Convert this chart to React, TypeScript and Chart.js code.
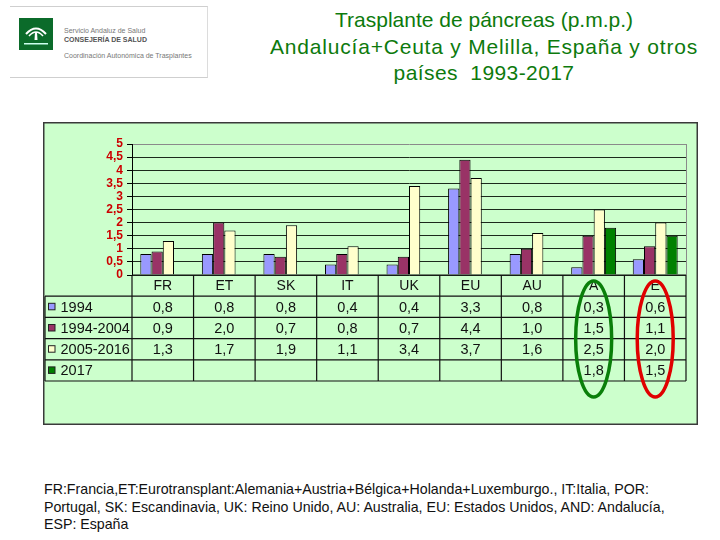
import React, { useEffect, useRef } from "react";
import { Chart, registerables } from "chart.js";

Chart.register(...registerables);

const categories = ["FR", "ET", "SK", "IT", "UK", "EU", "AU", "A", "E"];
const seriesLabels = ["1994", "1994-2004", "2005-2016", "2017"];
const values1994 = [0.8, 0.8, 0.8, 0.4, 0.4, 3.3, 0.8, 0.3, 0.6];
const values1994to2004 = [0.9, 2.0, 0.7, 0.8, 0.7, 4.4, 1.0, 1.5, 1.1];
const values2005to2016 = [1.3, 1.7, 1.9, 1.1, 3.4, 3.7, 1.6, 2.5, 2.0];
const values2017: (number | null)[] = [null, null, null, null, null, null, null, 1.8, 1.5];
const seriesColors = ["#9999FF", "#993366", "#FFFFCC", "#008000"];
const yMin = 0;
const yMax = 5;
const yStep = 0.5;
const highlighted = [
  { category: "A", color: "#0a7f0a" },
  { category: "E", color: "#e00000" },
];

const allSeries = [values1994, values1994to2004, values2005to2016, values2017];

const fmt = (v: number | null) => (v === null ? "" : v.toFixed(1).replace(".", ","));

const tablePlugin = {
  id: "dataTable",
  beforeDraw(chart: any) {
    const { ctx, width, height } = chart;
    ctx.save();
    ctx.fillStyle = "#CCFFCC";
    ctx.fillRect(0, 0, width, height);
    ctx.strokeStyle = "#3a3a3a";
    ctx.lineWidth = 1.5;
    ctx.strokeRect(0.75, 0.75, width - 1.5, height - 1.5);
    ctx.restore();
  },
  afterDraw(chart: any) {
    const { ctx, chartArea } = chart;
    const xs = chart.scales.x;
    const left = chartArea.left;
    const right = chartArea.right;
    const colW = (right - left) / categories.length;
    const top = chartArea.bottom;
    const rowH = 21.2;
    const tableLeft = 2;
    ctx.save();
    ctx.strokeStyle = "#8a8a8a";
    ctx.lineWidth = 1;
    ctx.beginPath();
    ctx.moveTo(right + 0.5, chartArea.top);
    ctx.lineTo(right + 0.5, chartArea.bottom);
    ctx.stroke();

    ctx.strokeStyle = "#111";
    ctx.lineWidth = 1.2;
    ctx.beginPath();
    for (let r = 1; r <= 5; r++) {
      const y = top + r * rowH;
      ctx.moveTo(tableLeft, y);
      ctx.lineTo(right, y);
    }
    ctx.moveTo(left, top);
    ctx.lineTo(right, top);
    for (let c = 0; c <= categories.length; c++) {
      const x = left + c * colW;
      ctx.moveTo(x, top);
      ctx.lineTo(x, top + 5 * rowH);
    }
    ctx.moveTo(tableLeft, top + rowH);
    ctx.lineTo(tableLeft, top + 5 * rowH);
    ctx.stroke();

    ctx.fillStyle = "#111";
    ctx.textAlign = "center";
    ctx.textBaseline = "middle";
    ctx.font = "14px 'Liberation Sans', Arial, sans-serif";
    categories.forEach((c, i) => {
      const x = xs.getPixelForValue(i);
      ctx.fillText(c, x, top + rowH / 2 + 1);
    });
    ctx.font = "14.5px 'Liberation Sans', Arial, sans-serif";
    allSeries.forEach((s, r) => {
      const y = top + (r + 1) * rowH + rowH / 2 + 1;
      s.forEach((v, i) => {
        ctx.fillText(fmt(v), xs.getPixelForValue(i), y);
      });
    });
    ctx.textAlign = "left";
    seriesLabels.forEach((lab, r) => {
      const y = top + (r + 1) * rowH + rowH / 2;
      ctx.fillStyle = seriesColors[r];
      ctx.fillRect(tableLeft + 3.5, y - 3.5, 6.5, 6.5);
      ctx.strokeStyle = "#222";
      ctx.lineWidth = 1;
      ctx.strokeRect(tableLeft + 3.5, y - 3.5, 6.5, 6.5);
      ctx.fillStyle = "#111";
      ctx.fillText(lab, tableLeft + 15.5, y + 1);
    });
    highlighted.forEach((h) => {
      const i = categories.indexOf(h.category);
      const cx = xs.getPixelForValue(i);
      ctx.strokeStyle = h.color;
      ctx.lineWidth = 3.5;
      ctx.beginPath();
      ctx.ellipse(cx, top + 64, 18, 58, 0, 0, Math.PI * 2);
      ctx.stroke();
    });
    ctx.restore();
  },
};

function App() {
  const ref = useRef<HTMLCanvasElement>(null);
  useEffect(() => {
    if (!ref.current) return;
    const chart = new Chart(ref.current, {
      type: "bar",
      data: {
        labels: categories,
        datasets: allSeries.map((s, i) => ({
          label: seriesLabels[i],
          data: s as any,
          backgroundColor: seriesColors[i],
          borderColor: "#000",
          borderWidth: 1,
          categoryPercentage: 0.73,
          barPercentage: 1,
        })),
      },
      options: {
        animation: false,
        responsive: false,
        maintainAspectRatio: false,
        layout: { padding: { left: 0, right: 12, top: 22, bottom: 150 } },
        plugins: { legend: { display: false }, tooltip: { enabled: false }, title: { display: false } },
        scales: {
          x: { display: false, offset: true },
          y: {
            min: yMin,
            max: yMax,
            afterFit: (scale: any) => {
              scale.width = 89;
            },
            border: { display: true, color: "#000", width: 1 },
            grid: {
              color: (c: any) => (c.tick && c.tick.value === yMax ? "#8a8a8a" : "#1c2a1c"),
              lineWidth: 1,
              tickLength: 5,
              tickColor: "#000",
            },
            ticks: {
              stepSize: yStep,
              autoSkip: false,
              color: "#cc0000",
              padding: 4,
              font: { family: "'Liberation Sans', Arial, sans-serif", size: 12, weight: "bold" },
              callback: (v: any) => fmt(Number(v)).replace(",0", ""),
            },
          },
        },
      },
      plugins: [tablePlugin],
    });
    return () => chart.destroy();
  }, []);

  return (
    <div style={{ position: "absolute", left: 0, top: 0, width: 720, height: 540, background: "#fff", fontFamily: "'Liberation Sans', Arial, sans-serif" }}>
      <div style={{ position: "absolute", left: 10, top: 6, width: 197, height: 70, borderTop: "1px solid #cfcfcf", borderBottom: "1px solid #cfcfcf", borderRight: "1px solid #dcdcdc" }}>
        <div style={{ position: "absolute", left: 9, top: 11, width: 34, height: 32, background: "#0b6b2a" }}>
          <svg width="34" height="32" viewBox="0 0 34 32">
            <path d="M7 16 Q17 5 27 16" stroke="#fff" strokeWidth="2" fill="none" />
            <path d="M10 18 Q17 10 24 18" stroke="#fff" strokeWidth="1.6" fill="none" />
            <path d="M16 14 L18 14 L18.5 22 L15.5 22 Z" fill="#fff" />
            <rect x="5" y="25" width="24" height="1.5" fill="#cfe" />
          </svg>
        </div>
        <div style={{ position: "absolute", left: 54, top: 20, fontSize: 7, color: "#777", whiteSpace: "nowrap" }}>Servicio Andaluz de Salud</div>
        <div style={{ position: "absolute", left: 54, top: 29, fontSize: 7, color: "#555", fontWeight: "bold", whiteSpace: "nowrap" }}>CONSEJERÍA DE SALUD</div>
        <div style={{ position: "absolute", left: 54, top: 45, fontSize: 7, color: "#777", whiteSpace: "nowrap" }}>Coordinación Autonómica de Trasplantes</div>
      </div>
      <div style={{ position: "absolute", left: 234, top: 7, width: 500, textAlign: "center", color: "#0d7a0d", fontSize: 21, lineHeight: "26.5px", whiteSpace: "nowrap" }}>
        <div>Trasplante de páncreas (p.m.p.)</div>
        <div style={{ letterSpacing: 0.8 }}>Andalucía+Ceuta y Melilla, España y otros</div>
        <div style={{ letterSpacing: 0.4 }}>países&nbsp; 1993-2017</div>
      </div>
      <canvas ref={ref} width={655} height={303} style={{ position: "absolute", left: 43, top: 122, width: 655, height: 303 }} />
      <div style={{ position: "absolute", left: 44, top: 481, fontSize: 14.2, lineHeight: "17.5px", color: "#111", whiteSpace: "nowrap" }}>
        FR:Francia,ET:Eurotransplant:Alemania+Austria+Bélgica+Holanda+Luxemburgo., IT:Italia, POR:<br />
        Portugal, SK: Escandinavia, UK: Reino Unido, AU: Australia, EU: Estados Unidos, AND: Andalucía,<br />
        ESP: España
      </div>
    </div>
  );
}

export default App;
